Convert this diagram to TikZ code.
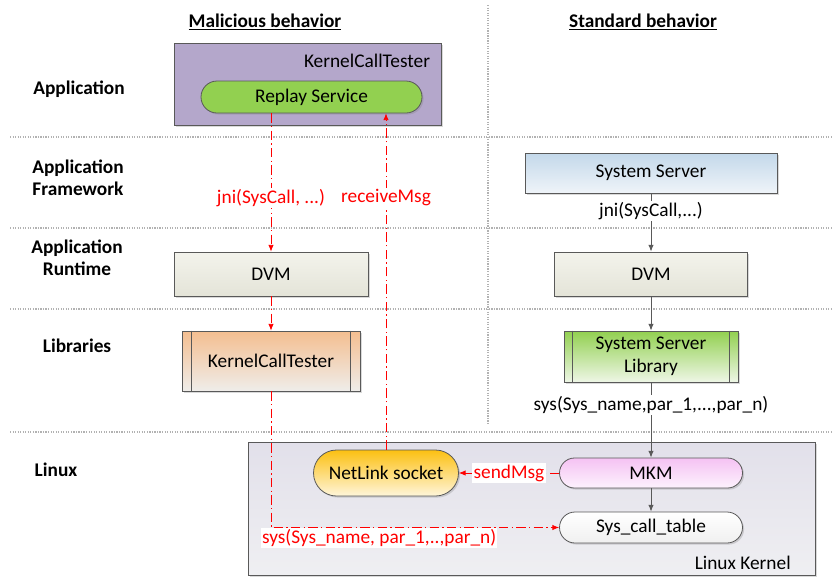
\documentclass[tikz,border=0pt]{standalone}
\usepackage{fontspec}
\setmainfont{Carlito}
\usetikzlibrary{arrows.meta,shapes.misc,shadows}

\definecolor{appviolet}{HTML}{B4A7CB}
\definecolor{replaygreen}{HTML}{92D050}
\definecolor{dvmtop}{HTML}{F3F3EC}
\definecolor{dvmbot}{HTML}{E4E4D8}
\definecolor{kcttop}{HTML}{F4BE90}
\definecolor{kctbot}{HTML}{EFEDEA}
\definecolor{sstop}{HTML}{C3D8EA}
\definecolor{ssbot}{HTML}{EFF4F9}
\definecolor{ssltop}{HTML}{92D050}
\definecolor{sslbot}{HTML}{EEF6E6}
\definecolor{kerneltop}{HTML}{E2E0EA}
\definecolor{kernelbot}{HTML}{EFEFF2}
\definecolor{nltop}{HTML}{FCC012}
\definecolor{nlbot}{HTML}{FEF5DA}
\definecolor{mkmtop}{HTML}{F5C2F3}
\definecolor{mkmbot}{HTML}{FDF2FD}
\definecolor{edgegray}{HTML}{595959}

\begin{document}
\begin{tikzpicture}[x=0.75pt,y=-0.75pt,font=\fontsize{14.5}{17}\selectfont,
		layer/.style={font=\fontsize{14.5}{16.5}\selectfont\bfseries,align=center},
		sep/.style={draw=gray!60,densely dotted,line width=0.9pt},
		softshadow/.style={drop shadow={shadow xshift=1.2pt,shadow yshift=-1.2pt,opacity=0.3}},
		box/.style={draw=edgegray,rectangle,align=center,inner sep=0pt,line width=0.6pt,softshadow},
		pill/.style={draw=edgegray,rounded rectangle,align=center,inner sep=0pt,line width=0.6pt,softshadow},
		flow/.style={draw=edgegray,line width=0.7pt,-{Latex[length=5pt,width=4pt]}},
		redflow/.style={draw=red,line width=0.6pt,dash pattern=on 7pt off 2.5pt on 1pt off 2.5pt,-{Latex[length=5pt,width=4pt]}},
		redlbl/.style={text=red,fill=white,inner sep=1pt},
		blacklbl/.style={fill=white,inner sep=1pt}]

	\useasboundingbox (0,0) rectangle (833,576);

	\path[sep] (10,137) -- (833,137);
	\path[sep] (10,228) -- (833,228);
	\path[sep] (10,309) -- (833,309);
	\path[sep] (10,432) -- (833,432);
	\path[sep] (488,5) -- (488,424);

	\node[layer] (hdrmal) at (265,22) {\underline{Malicious behavior}};
	\node[layer] (hdrstd) at (643,22) {\underline{Standard behavior}};

	\node[layer] (lapp) at (79,89) {Application};
	\node[layer] (lfw) at (78,178) {Application\\Framework};
	\node[layer] (lrt) at (77,258) {Application\\Runtime};
	\node[layer] (llib) at (77,346) {Libraries};
	\node[layer] (llinux) at (56,470) {Linux};

	\node[box,fill=appviolet,minimum width=200.25pt,minimum height=61.5pt] (app) at (307.5,84) {};
	\node[anchor=north east] (apptitle) at ([xshift=-5pt,yshift=-5pt]app.north east) {KernelCallTester};
	\node[pill,fill=replaygreen,minimum width=165.75pt,minimum height=24pt] (replay) at (311.5,97) {Replay Service};

	\node[box,top color=dvmtop,bottom color=dvmbot,minimum width=145.5pt,minimum height=33pt] (dvmL) at (271,274) {DVM};
	\node[box,top color=kcttop,bottom color=kctbot,minimum width=133.5pt,minimum height=45pt] (kctL) at (271,361) {KernelCallTester};
	\draw[edgegray,line width=0.6pt] ([xshift=7.5pt]kctL.north west) -- ([xshift=7.5pt]kctL.south west);
	\draw[edgegray,line width=0.6pt] ([xshift=-7.5pt]kctL.north east) -- ([xshift=-7.5pt]kctL.south east);

	\node[box,top color=sstop,bottom color=ssbot,minimum width=189pt,minimum height=30pt] (ss) at (651,173) {System Server};
	\node[box,top color=dvmtop,bottom color=dvmbot,minimum width=144.75pt,minimum height=33pt] (dvmR) at (651,274) {DVM};
	\node[box,top color=ssltop,bottom color=sslbot,minimum width=130.5pt,minimum height=38.25pt] (ssl) at (651,356.5) {System Server\\Library};
	\draw[edgegray,line width=0.6pt] ([xshift=6.75pt]ssl.north west) -- ([xshift=6.75pt]ssl.south west);
	\draw[edgegray,line width=0.6pt] ([xshift=-6.75pt]ssl.north east) -- ([xshift=-6.75pt]ssl.south east);

	\node[box,top color=kerneltop,bottom color=kernelbot,minimum width=425.25pt,minimum height=99.75pt] (kernel) at (531.5,508.5) {};
	\node[anchor=south east] (kerneltitle) at ([xshift=-15pt,yshift=1pt]kernel.south east) {Linux Kernel};
	\node[pill,top color=nltop,bottom color=nlbot,minimum width=108.75pt,minimum height=34.5pt] (netlink) at (386,473) {NetLink socket};
	\node[pill,top color=mkmtop,bottom color=mkmbot,minimum width=137.25pt,minimum height=22.5pt] (mkm) at (651,473) {MKM};
	\node[pill,top color=white,bottom color=black!6,minimum width=137.25pt,minimum height=23.25pt] (sct) at (651,527.5) {Sys\_call\_table};

	\draw[flow] (ss.south) -- node[blacklbl,pos=0.3] {jni(SysCall,...)} (dvmR.north);
	\draw[flow] (dvmR.south) -- (ssl.north);
	\draw[flow] (ssl.south) -- node[blacklbl,pos=0.3] {sys(Sys\_name,par\_1,...,par\_n)} (mkm.north);
	\draw[flow] (mkm.south) -- (sct.north);

	\draw[redflow] (dvmL.north |- replay.south) -- node[redlbl,pos=0.61] {jni(SysCall, ...)} (dvmL.north);
	\draw[redflow] (dvmL.south) -- (kctL.north);
	\draw[redflow] (kctL.south) |- node[redlbl,pos=0.5,anchor=north west,xshift=-8pt] {sys(Sys\_name, par\_1,..,par\_n)} (sct.west);
	\draw[redflow] (netlink.north) -- node[redlbl,pos=0.75] {receiveMsg} (netlink.north |- replay.south);
	\draw[redflow] (mkm.west) -- node[redlbl] {sendMsg} (netlink.east);

\end{tikzpicture}
\end{document}
